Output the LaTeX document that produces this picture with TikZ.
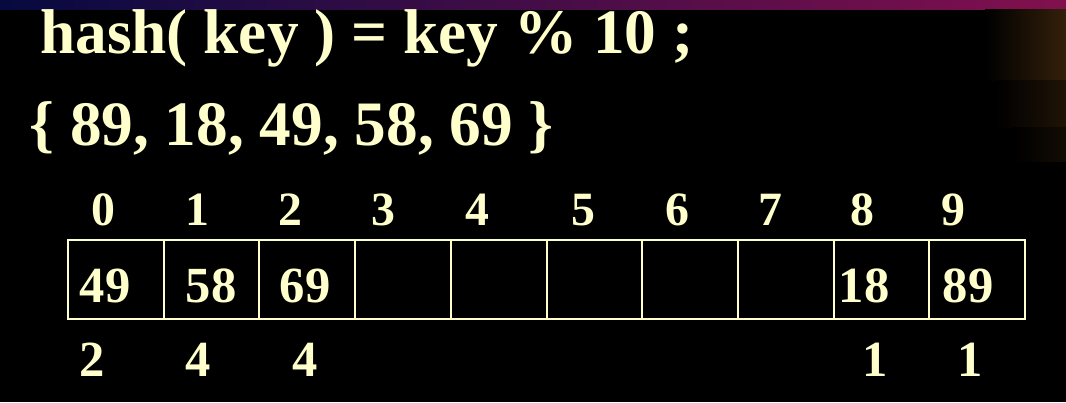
\documentclass[tikz,border=0pt]{standalone}
\usepackage{fontspec}
\setmainfont{Liberation Serif}
\definecolor{chalk}{HTML}{FFFFCC}
\definecolor{stripL}{HTML}{060A40}
\definecolor{stripM}{HTML}{2A0A42}
\definecolor{stripR}{HTML}{82104E}
\definecolor{rust}{HTML}{34200A}
\begin{document}
\begin{tikzpicture}[x=0.025cm, y=-0.025cm,
    every node/.style={text=chalk, inner sep=0pt},
    big/.style={font=\fontsize{45}{54}\selectfont\bfseries},
    index/.style={font=\fontsize{34}{40}\selectfont\bfseries},
    small/.style={font=\fontsize{36}{42}\selectfont\bfseries},
    cell/.style={draw=chalk, line width=1.4pt, minimum width=2.3925cm, minimum height=1.975cm, outer sep=0pt}]
    \useasboundingbox (0,0) rectangle (1066,402);

    % Draw background
    \fill[black] (0,0) rectangle (1066,402);
    \shade[left color=stripL, middle color=stripM, right color=stripR] (0,0) rectangle (1066,9);
    \shade[left color=black, right color=rust] (985,9) rectangle (1066,80);
    \shade[left color=black, right color=rust!60!black] (996,80) rectangle (1066,127);
    \shade[left color=black, right color=rust!35!black] (1013,127) rectangle (1066,161);

    % Add heading lines
    \node[big, anchor=base west] (hashline) at (40,53) {hash( key ) = key \% 10 ;};
    \node[big, anchor=base west] (keyset) at (29,145) {\{ 89, 18, 49, 58, 69 \}};

    % Draw table cells
    \foreach \i in {0,...,9}
        \node[cell] (c\i) at ({68+95.7*(\i+0.5)},279.5) {};

    % Add index labels
    \foreach \i/\x in {0/103, 1/197, 2/290, 3/383, 4/477, 5/583, 6/677, 7/770, 8/862, 9/953}
        \node[index, anchor=base] (idx\i) at (\x,225) {\i};

    % Add stored keys
    \node[small, anchor=base] (val0) at (105,302) {49};
    \node[small, anchor=base] (val1) at (211,302) {58};
    \node[small, anchor=base] (val2) at (305,302) {69};
    \node[small, anchor=base] (val8) at (864,302) {18};
    \node[small, anchor=base] (val9) at (968,302) {89};

    % Add probe counts
    \node[small, anchor=base] (cnt0) at (92,376) {2};
    \node[small, anchor=base] (cnt1) at (198,376) {4};
    \node[small, anchor=base] (cnt2) at (305,376) {4};
    \node[small, anchor=base] (cnt8) at (875,376) {1};
    \node[small, anchor=base] (cnt9) at (970,376) {1};
\end{tikzpicture}
\end{document}
